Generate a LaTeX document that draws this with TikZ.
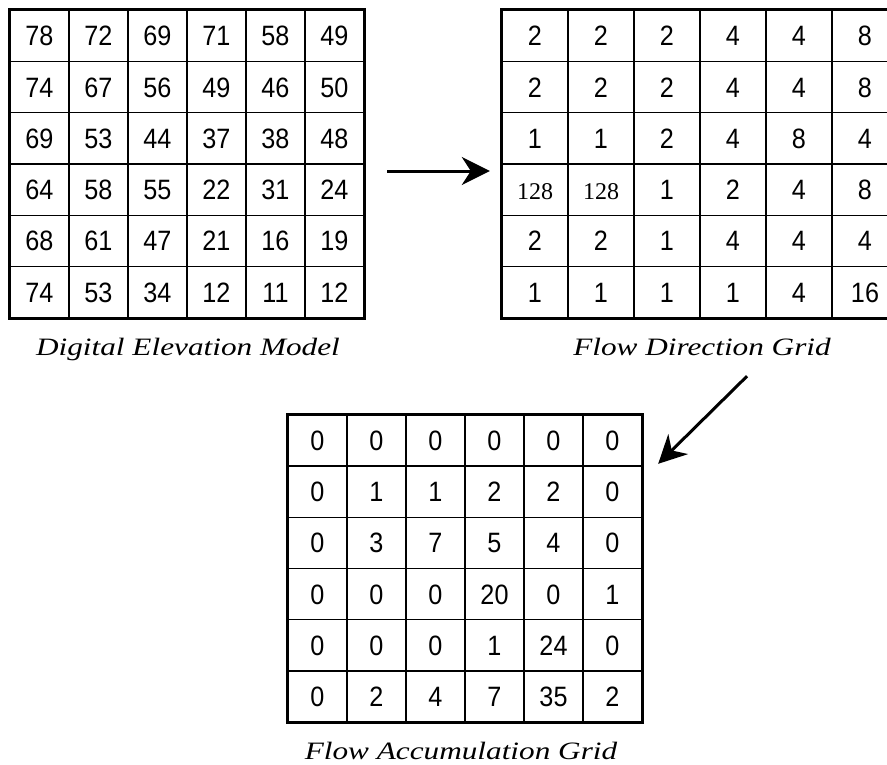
\documentclass[tikz,border=0pt]{standalone}
\usepackage{fontspec}
\setmainfont{Liberation Serif}
\newfontfamily\numfont[FakeStretch=0.9]{Liberation Sans}
\newfontfamily\capfont[FakeStretch=1.25]{Liberation Serif}
\usetikzlibrary{arrows.meta,fit}
\newcommand\smallnum{\fontspec{Liberation Serif}\fontsize{24}{24}\selectfont}
\tikzset{
  cell/.style={draw, line width=1.4pt, inner sep=0pt, anchor=center,
    text height=20pt, text depth=0pt,
    font=\numfont\fontsize{28}{28}\selectfont},
  outer/.style={draw, line width=3pt, inner sep=0pt},
  caption/.style={inner sep=0pt, font=\capfont\itshape\fontsize{25}{25}\selectfont},
  arr/.style={line width=3pt, -{Stealth[length=28pt, width=28pt, inset=9pt]}}
}
\begin{document}
\begin{tikzpicture}[x=1pt,y=-1pt]
\useasboundingbox[fill=white] (0,0) rectangle (887,764);
% Digital Elevation Model
\foreach \row [count=\r from 0] in {{78,72,69,71,58,49},{74,67,56,49,46,50},{69,53,44,37,38,48},{64,58,55,22,31,24},{68,61,47,21,16,19},{74,53,34,12,11,12}}{
  \foreach \v [count=\c from 0] in \row {
    \node[cell, minimum width=59pt, minimum height=51.33pt] (dem-\r-\c) at (10+59*\c+29.5, 10+51.33*\r+25.67) {\v};
  }
}
\node[outer, fit=(dem-0-0)(dem-5-5)] (dem) {};
\node[caption] (demcap) at (188,349) {Digital Elevation Model};
% Flow Direction Grid
\foreach \row [count=\r from 0] in {{2,2,2,4,4,8},{2,2,2,4,4,8},{1,1,2,4,8,4},{{\smallnum 128},{\smallnum 128},1,2,4,8},{2,2,1,4,4,4},{1,1,1,1,4,16}}{
  \foreach \v [count=\c from 0] in \row {
    \node[cell, minimum width=66pt, minimum height=51.33pt] (fd-\r-\c) at (502+66*\c+33, 10+51.33*\r+25.67) {\v};
  }
}
\node[outer, fit=(fd-0-0)(fd-5-5)] (fd) {};
\node[caption] (fdcap) at (702,347) {Flow Direction Grid};
% Flow Accumulation Grid
\foreach \row [count=\r from 0] in {{0,0,0,0,0,0},{0,1,1,2,2,0},{0,3,7,5,4,0},{0,0,0,20,0,1},{0,0,0,1,24,0},{0,2,4,7,35,2}}{
  \foreach \v [count=\c from 0] in \row {
    \node[cell, minimum width=59pt, minimum height=51.17pt] (fa-\r-\c) at (288+59*\c+29.5, 415+51.17*\r+25.58) {\v};
  }
}
\node[outer, fit=(fa-0-0)(fa-5-5)] (fa) {};
\node[caption] (facap) at (461,751) {Flow Accumulation Grid};
% arrows
\draw[arr] ([shift={(21,7)}]dem.east) -- ([shift={(-10,7)}]fd.west);
\draw[arr] ([shift={(47,56)}]fd.south) -- ([shift={(14,51)}]fa.north east);
\end{tikzpicture}
\end{document}
